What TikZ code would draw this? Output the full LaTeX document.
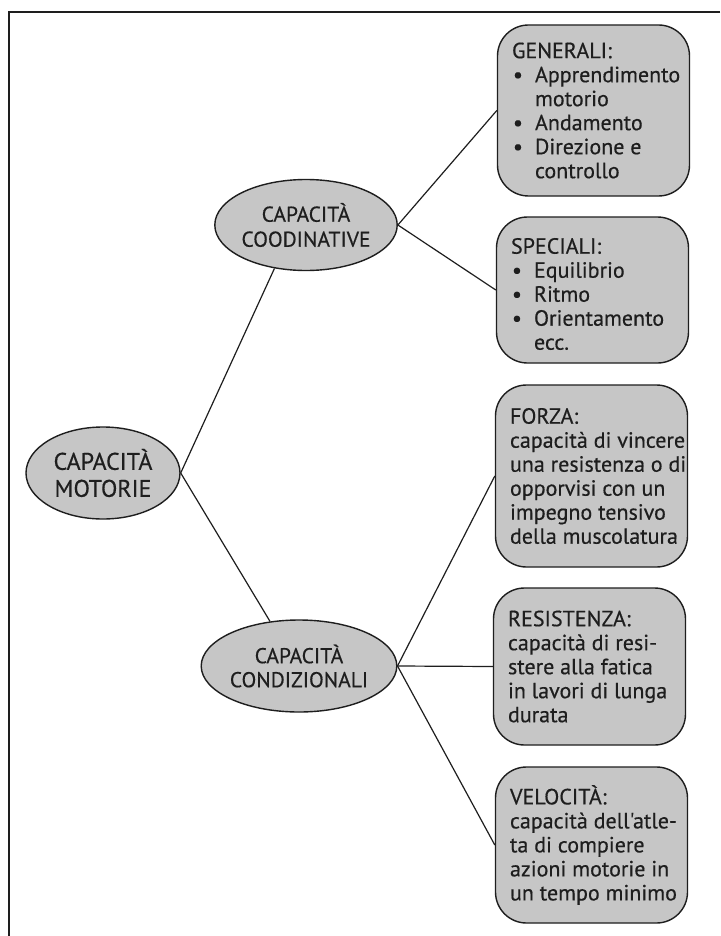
\documentclass[tikz,border=0pt]{standalone}
\usepackage{fontspec}
\setmainfont{PT Sans}
\newfontfamily\printfont{PT Sans}[FakeBold=0.45]
\usetikzlibrary{shapes.geometric}
\definecolor{boxgray}{RGB}{198,198,198}
\definecolor{ink}{RGB}{30,30,30}
\newcommand{\bitem}[1]{\makebox[23pt][l]{\hspace{1pt}\textbullet}#1}
\newcommand{\bcont}[1]{\hspace*{23pt}#1}
\begin{document}
\begin{tikzpicture}[x=1pt,y=-1pt,
  infobox/.style={draw=ink, line width=1.4pt, fill=boxgray, rounded corners=31pt,
    minimum width=192pt, inner sep=0pt},
  infotext/.style={anchor=west, inner sep=0pt, align=left, text=ink,
    font=\printfont\fontsize{22}{24}\selectfont},
  oval/.style={ellipse, draw=ink, line width=1.4pt, fill=boxgray, inner sep=0pt,
    align=center, text=ink},
  link/.style={draw=ink, line width=1.2pt}]
\useasboundingbox (0,0) rectangle (720,936);
\fill[white] (0,0) rectangle (720,936);
\draw[ink, line width=1.7pt] (720,12) -- (9,12) -- (9,936);

\node[oval, minimum width=154pt, minimum height=92pt,
  font=\printfont\fontsize{24}{27}\selectfont] (mot) at (103,473) {CAPACITÀ\\MOTORIE};
\node[oval, minimum width=154pt, minimum height=91pt,
  font=\printfont\fontsize{21.5}{25}\selectfont] (cood) at (306,225) {CAPACITÀ\\COODINATIVE};
\node[oval, minimum width=168pt, minimum height=92pt,
  font=\printfont\fontsize{21.5}{24}\selectfont] (cond) at (299,666) {CAPACITÀ\\CONDIZIONALI};

\node[infobox, minimum height=171pt] (gen) at (593.5,110.5) {};
\node[infotext] (gentext) at ([xshift=15pt]gen.west) {GENERALI:\\
\bitem{Apprendimento}\\ \bcont{motorio}\\ \bitem{Andamento}\\ \bitem{Direzione e}\\ \bcont{controllo}};
\node[infobox, minimum height=146pt] (spec) at (592.5,290) {};
\node[infotext] (spectext) at ([xshift=15pt,yshift=-4pt]spec.west) {SPECIALI:\\
\bitem{Equilibrio}\\ \bitem{Ritmo}\\ \bitem{Orientamento}\\ \bcont{ecc.}};
\node[infobox, minimum height=182pt] (forza) at (591.5,476) {};
\node[infotext] (forzatext) at ([xshift=15pt]forza.west) {FORZA:\\
capacità di vincere\\ una resistenza o di\\ opporvisi con un\\ impegno tensivo\\ della muscolatura};
\node[infobox, minimum height=157pt] (res) at (589.5,666.5) {};
\node[infotext] (restext) at ([xshift=15pt]res.west) {RESISTENZA:\\
capacità di resi-\\ stere alla fatica\\ in lavori di lunga\\ durata};
\node[infobox, minimum height=156pt] (vel) at (591.5,845) {};
\node[infotext] (veltext) at ([xshift=15pt]vel.west) {VELOCITÀ:\\
capacità dell'atle-\\ ta di compiere\\ azioni motorie in\\ un tempo minimo};

\draw[link] (mot.east) -- (cood.234);
\draw[link] (mot.east) -- (cond.123);
\draw[link] (cood.east) -- (gen.west);
\draw[link] (cood.east) -- (spec.west);
\draw[link] (cond.east) -- (forza.west);
\draw[link] (cond.east) -- (res.west);
\draw[link] (cond.east) -- (vel.west);
\end{tikzpicture}
\end{document}
